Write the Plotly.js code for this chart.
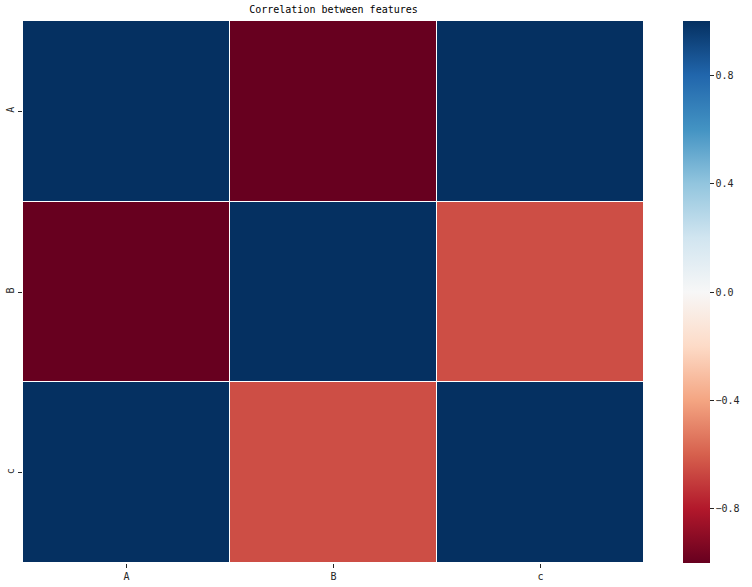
<!DOCTYPE html>
<html>
<head>
<meta charset="utf-8">
<script src="https://cdn.plot.ly/plotly-3.0.1.min.js"></script>
<style>html,body{margin:0;padding:0;background:#fff;}#chart{width:752px;height:587px;}</style>
</head>
<body>
<div id="chart"></div>
<script>
var features = ['A', 'B', 'c'];
var rowA = [1.0, -1.0, 1.0];
var rowB = [-1.0, 1.0, -0.65];
var rowC = [1.0, -0.65, 1.0];
var cbTickVals = [-0.8, -0.4, 0.0, 0.4, 0.8];
var cbTickText = ['\u22120.8', '\u22120.4', '0.0', '0.4', '0.8'];

var rdbu = [
  [0.0, '#67001f'], [0.1, '#b2182b'], [0.2, '#d6604d'], [0.3, '#f4a582'],
  [0.4, '#fddbc7'], [0.5, '#f7f7f7'], [0.6, '#d1e5f0'], [0.7, '#92c5de'],
  [0.8, '#4393c3'], [0.9, '#2166ac'], [1.0, '#053061']
];

var font = {family: 'DejaVu Sans Mono, monospace', size: 10, color: '#262626'};

var trace = {
  type: 'heatmap',
  x: features,
  y: features,
  z: [rowA, rowB, rowC],
  zmin: -1, zmax: 1,
  colorscale: rdbu,
  xgap: 1, ygap: 1,
  colorbar: {
    x: 1.0625, xanchor: 'left', xref: 'paper',
    y: 0.5, yanchor: 'middle', len: 1, lenmode: 'fraction',
    xpad: 0, ypad: 0,
    thickness: 27, thicknessmode: 'pixels',
    outlinewidth: 0,
    tickmode: 'array', tickvals: cbTickVals, ticktext: cbTickText,
    ticks: 'outside', ticklen: 4, tickwidth: 1, tickcolor: '#262626',
    tickfont: font
  }
};

var layout = {
  width: 752, height: 587,
  margin: {l: 23, r: 105, t: 21, b: 24, pad: 0},
  paper_bgcolor: '#ffffff', plot_bgcolor: '#ffffff',
  title: {text: 'Correlation between features', font: {family: 'DejaVu Sans Mono, monospace', size: 10, color: '#000'}, x: 0.5, xref: 'paper', xanchor: 'center', y: 1, yref: 'container', yanchor: 'top', pad: {t: 6}},
  xaxis: {
    type: 'category', showgrid: false, zeroline: false, showline: false,
    ticks: 'outside', ticklen: 4, tickcolor: '#262626', tickfont: font
  },
  yaxis: {
    type: 'category', autorange: 'reversed', showgrid: false, zeroline: false, showline: false,
    ticks: 'outside', ticklen: 4, tickcolor: '#262626', tickfont: font, tickangle: -90
  },
  font: font
};

Plotly.newPlot('chart', [trace], layout, {displayModeBar: false, staticPlot: true});
</script>
</body>
</html>
